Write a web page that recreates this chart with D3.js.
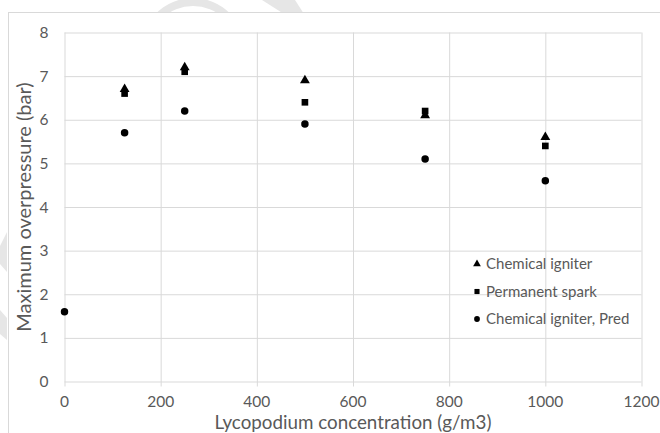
<!DOCTYPE html>
<html>
<head>
<meta charset="utf-8">
<script src="https://cdn.jsdelivr.net/npm/d3@7"></script>
<style>
  html, body { margin: 0; padding: 0; background: #fff; }
  svg { display: block; }
  text { font-family: Lato, "Open Sans", sans-serif; fill: #595959; }
</style>
</head>
<body>
<svg id="chart" width="660" height="433"></svg>
<script>
// Lycopodium concentration (g/m3)
const concentrations = [125, 250, 500, 750, 1000];
const predConcentrations = [0, 125, 250, 500, 750, 1000];

// Maximum overpressure (bar)
const chemicalIgniter = [6.7, 7.2, 6.9, 6.1, 5.6];
const permanentSpark = [6.6, 7.1, 6.4, 6.2, 5.4];
const chemicalIgniterPred = [1.6, 5.7, 6.2, 5.9, 5.1, 4.6];

const xTicks = [0, 200, 400, 600, 800, 1000, 1200];
const yTicks = [0, 1, 2, 3, 4, 5, 6, 7, 8];

const seriesNames = ["Chemical igniter", "Permanent spark", "Chemical igniter, Pred"];

const series = [
  { name: seriesNames[0], shape: d3.symbolTriangle, size: 42, xs: concentrations, ys: chemicalIgniter },
  { name: seriesNames[1], shape: d3.symbolSquare, size: 44, xs: concentrations, ys: permanentSpark },
  { name: seriesNames[2], shape: d3.symbolCircle, size: 44, xs: predConcentrations, ys: chemicalIgniterPred }
];

const svg = d3.select("#chart");
const grid = "#d9d9d9";

// faint background watermark fragments, mostly hidden by the chart area
const wm = svg.append("g").attr("fill", "#e6e6e6");
wm.append("path")
  .attr("transform", "translate(193,50)")
  .attr("d", d3.arc()({ innerRadius: 44, outerRadius: 52, startAngle: -Math.PI, endAngle: Math.PI }));
wm.append("polygon").attr("points", "262,0 295,0 304,14 284,14");
wm.append("polygon").attr("points", "0,246 7,232 7,272 0,264");
wm.append("polygon").attr("points", "0,310 7,318 7,340 0,334");

// chart area
svg.append("rect")
  .attr("x", 8.5).attr("y", 12.5)
  .attr("width", 700).attr("height", 500)
  .attr("fill", "#fff").attr("stroke", grid).attr("stroke-width", 1);

const x = d3.scaleLinear().domain([0, 1200]).range([64.5, 641.5]);
const y = d3.scaleLinear().domain([0, 8]).range([381.5, 32.5]);

// vertical gridlines, extended below the axis as tick marks
svg.append("g")
  .attr("transform", `translate(0,${y(0)})`)
  .call(d3.axisBottom(x).tickValues(xTicks).tickSize(-(y(0) - y(8))).tickFormat(""))
  .call(g => g.select(".domain").remove())
  .call(g => g.selectAll("line").attr("stroke", grid).attr("y2", -(y(0) - y(8))).attr("y1", 5));

// horizontal gridlines
svg.append("g")
  .attr("transform", `translate(${x(0)},0)`)
  .call(d3.axisLeft(y).tickValues(yTicks).tickSize(-(x(1200) - x(0))).tickFormat(""))
  .call(g => g.select(".domain").remove())
  .call(g => g.selectAll("line").attr("stroke", grid));

// tick labels
svg.append("g").selectAll("text")
  .data(xTicks).join("text")
  .attr("x", d => x(d)).attr("y", 406.5)
  .attr("text-anchor", "middle")
  .style("font-size", "15.5px")
  .text(d => d);

svg.append("g").selectAll("text")
  .data(yTicks).join("text")
  .attr("x", 48.5).attr("y", d => y(d) + 5.5)
  .attr("text-anchor", "end")
  .style("font-size", "15.5px")
  .text(d => d);

// axis titles
svg.append("text")
  .attr("x", (x(0) + x(1200)) / 2).attr("y", 428.8)
  .attr("text-anchor", "middle")
  .style("font-size", "18.8px")
  .text("Lycopodium concentration (g/m3)");

svg.append("text")
  .attr("transform", `translate(31,${(y(0) + y(8)) / 2}) rotate(-90)`)
  .attr("text-anchor", "middle")
  .style("font-size", "20px")
  .text("Maximum overpressure (bar)");

// markers
const symbol = d3.symbol();
series.forEach(s => {
  svg.append("g").selectAll("path")
    .data(s.ys.map((v, i) => [s.xs[i], v])).join("path")
    .attr("transform", d => `translate(${x(d[0])},${y(d[1])})`)
    .attr("d", symbol.type(s.shape).size(s.size)())
    .attr("fill", "#000");
});

// legend
const legend = svg.append("g");
series.forEach((s, i) => {
  const cy = 264 + i * 27.5;
  legend.append("path")
    .attr("transform", `translate(477,${cy})`)
    .attr("d", symbol.type(s.shape).size(26)())
    .attr("fill", "#000");
  legend.append("text")
    .attr("x", 486).attr("y", cy + 5)
    .style("font-size", "15px")
    .text(s.name);
});
</script>
</body>
</html>
